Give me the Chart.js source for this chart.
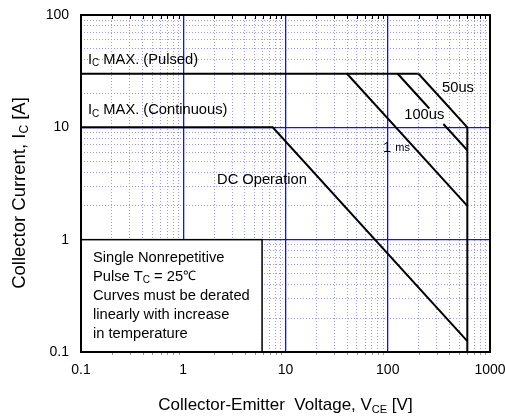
<!DOCTYPE html>
<html>
<head>
<meta charset="utf-8">
<script src="https://cdn.jsdelivr.net/npm/chart.js@4.4.1/dist/chart.umd.min.js"></script>
<style>
  html, body { margin: 0; padding: 0; background: #fff; }
</style>
</head>
<body>
<canvas id="soa" width="505" height="420"></canvas>
<script>
// tick labels (decades)
const xDecades = [0.1, 1, 10, 100, 1000];
const yDecades = [0.1, 1, 10, 100];

// curves: VCE [V] / IC [A]
const pulsedV = [0.1, 200];
const pulsedI = [30, 30];
const contV = [0.1, 7.5, 600];
const contI = [10, 10, 0.125];
const ms1V = [40, 600];
const ms1I = [30, 2];
const us100V = [125, 255, 300, 350, 600];
const us100I = [30, 14.7, null, 10.7, 6.25];
const us50V = [200, 600, 600];
const us50I = [30, 10, 0.1];

const FONT = '"Liberation Sans", Arial, sans-serif';
const F = 14.7;

function pts(xs, ys) {
  return xs.map((x, i) => ({x: x, y: ys[i]}));
}
function minorTicks(decs) {
  const out = [];
  decs.slice(0, -1).forEach(d => {
    for (let k = 2; k <= 9; k++) out.push(+(d * k).toPrecision(3));
  });
  return out;
}

function lineSet(xs, ys) {
  return {
    data: pts(xs, ys),
    borderColor: '#000',
    borderWidth: 2,
    pointRadius: 0,
    fill: false,
    spanGaps: false,
    tension: 0
  };
}

// draw text parts with subscripts
function drawParts(ctx, parts, x, y, align) {
  let w = 0;
  parts.forEach(p => { ctx.font = p[1] + 'px ' + FONT; w += ctx.measureText(p[0]).width; });
  let cx = align === 'center' ? x - w / 2 : x;
  parts.forEach(p => {
    ctx.font = p[1] + 'px ' + FONT;
    ctx.fillText(p[0], cx, y + (p[2] || 0));
    cx += ctx.measureText(p[0]).width;
  });
}

function noPad(s) {
  s.paddingLeft = 0; s.paddingRight = 0; s.paddingTop = 0; s.paddingBottom = 0;
}

const notes = {
  id: 'notes',
  beforeDatasetsDraw(chart) {
    const ctx = chart.ctx, xs = chart.scales.x, ys = chart.scales.y;
    // note box (covers grid)
    const l = xs.getPixelForValue(0.1), r = xs.getPixelForValue(5.9);
    const t = ys.getPixelForValue(1), b = ys.getPixelForValue(0.1);
    ctx.save();
    ctx.fillStyle = '#fff';
    ctx.fillRect(l, t, r - l, b - t);
    ctx.strokeStyle = '#000';
    ctx.lineWidth = 1.5;
    ctx.strokeRect(l, t, r - l, b - t);
    ctx.restore();
  },
  afterDatasetsDraw(chart) {
    const ctx = chart.ctx, xs = chart.scales.x, ys = chart.scales.y;
    const a = chart.chartArea;
    const X = v => xs.getPixelForValue(v), Y = v => ys.getPixelForValue(v);
    ctx.save();
    // small tick marks on top (inward) and bottom (outward)
    minorTicks(xDecades).forEach(v => {
      const px = Math.round(X(v)) + 0.5;
      ctx.strokeStyle = '#000';
      ctx.lineWidth = 1;
      ctx.beginPath(); ctx.moveTo(px, a.top); ctx.lineTo(px, a.top + 4); ctx.stroke();
      ctx.strokeStyle = '#999';
      ctx.beginPath(); ctx.moveTo(px, a.bottom); ctx.lineTo(px, a.bottom + 3); ctx.stroke();
    });
    // frame
    ctx.strokeStyle = '#000';
    ctx.lineWidth = 2;
    ctx.strokeRect(a.left, a.top, a.right - a.left, a.bottom - a.top);

    ctx.fillStyle = '#000';
    ctx.textBaseline = 'middle';
    ctx.textAlign = 'left';
    drawParts(ctx, [['I', F], ['C', 10, 4], [' MAX. (Pulsed)', F]], X(0.117), Y(40));
    drawParts(ctx, [['I', F], ['C', 10, 4], [' MAX. (Continuous)', F]], X(0.117), Y(14.3));
    drawParts(ctx, [['DC Operation', F]], X(2.14), Y(3.4));
    drawParts(ctx, [['50us', F]], X(340), Y(22.4));
    drawParts(ctx, [['100us', F]], X(145), Y(12.9));
    drawParts(ctx, [['1 ', F], ['ms', 11]], X(90), Y(6.5));

    // box text
    const bx = X(0.131);
    const top = Y(1);
    const lines = [
      [['Single Nonrepetitive', F]],
      [['Pulse T', F], ['C', 10, 4], [' = 25', F], ['\u2103', 13]],
      [['Curves must be derated', F]],
      [['linearly with increase', F]],
      [['in temperature', F]]
    ];
    lines.forEach((ln, i) => drawParts(ctx, ln, bx, top + 18 + i * 19));

    // axis titles
    drawParts(ctx, [['Collector-Emitter  Voltage, V', 17], ['CE', 11, 5], [' [V]', 17]],
      (a.left + a.right) / 2, 405, 'center');
    ctx.translate(20, 193);
    ctx.rotate(-Math.PI / 2);
    drawParts(ctx, [['Collector Current, I', 18.5], ['C', 12, 5], [' [A]', 18.5]], 0, 0, 'center');
    ctx.restore();
  }
};

const tickFont = {family: FONT, size: 14};

new Chart(document.getElementById('soa').getContext('2d'), {
  type: 'line',
  data: {
    datasets: [
      lineSet(pulsedV, pulsedI),
      lineSet(contV, contI),
      lineSet(ms1V, ms1I),
      lineSet(us100V, us100I),
      lineSet(us50V, us50I)
    ]
  },
  options: {
    responsive: false,
    animation: false,
    layout: {padding: {top: 15, right: 15, left: 0, bottom: 0}},
    plugins: {legend: {display: false}, tooltip: {enabled: false}},
    scales: {
      xm: {
        type: 'logarithmic', position: 'bottom', min: 0.1, max: 1000,
        afterBuildTicks: s => { s.ticks = minorTicks(xDecades).map(v => ({value: v})); },
        ticks: {display: false},
        grid: {color: '#9a9af2', lineWidth: 1, drawTicks: false},
        border: {display: false, dash: [1, 2]},
        afterFit: s => { s.height = 0; noPad(s); }
      },
      ym: {
        type: 'logarithmic', position: 'left', min: 0.1, max: 100,
        afterBuildTicks: s => { s.ticks = minorTicks(yDecades).map(v => ({value: v})); },
        ticks: {display: false},
        grid: {color: '#9a9af2', lineWidth: 1, drawTicks: false},
        border: {display: false, dash: [1, 2]},
        afterFit: s => { s.width = 0; noPad(s); }
      },
      x: {
        type: 'logarithmic', position: 'bottom', min: 0.1, max: 1000,
        afterBuildTicks: s => { s.ticks = xDecades.map(v => ({value: v})); },
        ticks: {color: '#000', font: tickFont, padding: 10, maxRotation: 0,
          callback: v => String(v)},
        grid: {color: '#1010ff', lineWidth: 1.3, drawTicks: false},
        border: {display: false},
        afterFit: s => { s.height = 68; noPad(s); }
      },
      y: {
        type: 'logarithmic', position: 'left', min: 0.1, max: 100,
        afterBuildTicks: s => { s.ticks = yDecades.map(v => ({value: v})); },
        ticks: {color: '#000', font: tickFont, padding: 12,
          callback: v => String(v)},
        grid: {color: '#1010ff', lineWidth: 1.3, drawTicks: false},
        border: {display: false},
        afterFit: s => { s.width = 81; noPad(s); }
      }
    }
  },
  plugins: [notes]
});
</script>
</body>
</html>
